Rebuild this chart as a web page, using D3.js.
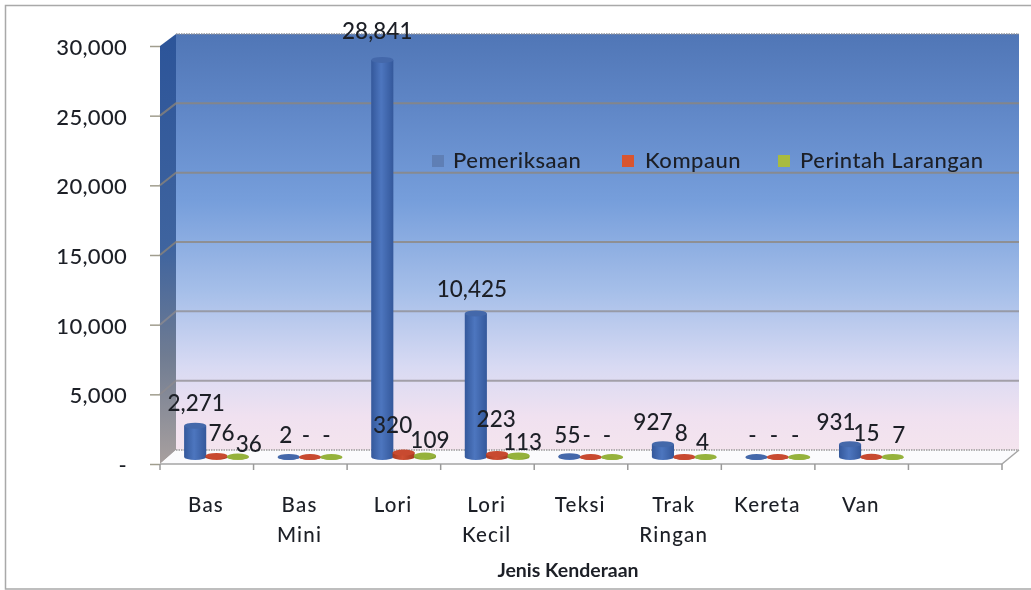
<!DOCTYPE html>
<html><head><meta charset="utf-8">
<script src="https://cdn.jsdelivr.net/npm/d3@7/dist/d3.min.js"></script>
<style>
html,body{margin:0;padding:0;background:#fff;overflow:hidden}
svg{display:block;filter:blur(0.5px)}
text{font-family:Lato,"Open Sans",sans-serif;fill:#1c1f26;font-weight:500}
</style></head><body>
<script>
// ---- data ----
const categories = [["Bas"],["Bas","Mini"],["Lori"],["Lori","Kecil"],["Teksi"],["Trak","Ringan"],["Kereta"],["Van"],[""]];
const seriesNames = ["Pemeriksaan","Kompaun","Perintah Larangan"];
const pemeriksaan = [2271,2,28841,10425,55,927,0,931];
const kompaun = [76,0,320,223,0,8,0,15];
const perintahLarangan = [36,0,109,113,0,4,0,7];
const yTicks = [0,5000,10000,15000,20000,25000,30000];
const axisTitle = "Jenis Kenderaan";
// ---- label nudges (hand placement of data labels, [dx,dy] from bar top centre) ----
const nudgeA = [[1,-22],[-3,-21],[-5,-28],[-4,-24],[-2,-20],[-10,-21],[-4,-21],[-14,-21]];
const nudgeB = [[5,-22],[-4,-21],[-11,-27],[-1,-34],[-4,-21],[-3,-23],[-4,-21],[-5,-23]];
const nudgeC = [[11,-12],[-5,-21],[5,-15],[4,-13],[-5,-21],[-3,-14],[-4,-21],[6,-21]];

const seriesValues = [pemeriksaan,kompaun,perintahLarangan];
const nudges = [nudgeA,nudgeB,nudgeC];
const dark = ["#34589b","#a8391f","#7f9a2a"], mid = ["#4d76bf","#cf4f33","#a0bd45"], cap = ["#4468aa","#c84a30","#95b23c"];
const legendSwatch = ["#5f7fb5","#d9552f","#a8bb3f"];

const W=1031,H=590;
const svg=d3.select("body").append("svg").attr("width",W).attr("height",H);
const defs=svg.append("defs");
const fmt=v=>v===0?"-":d3.format(",")(v);

const wall=defs.append("linearGradient").attr("id","wall").attr("x1",0).attr("x2",0).attr("y1",0).attr("y2",1);
[[0,"#5076b6"],[.17,"#5f86c6"],[.4,"#769edb"],[.62,"#a6bfe9"],[.8,"#d8daf3"],[.92,"#f0e1f0"],[1,"#f4e4ee"]]
 .forEach(s=>wall.append("stop").attr("offset",s[0]).attr("stop-color",s[1]));
const side=defs.append("linearGradient").attr("id","side").attr("x1",0).attr("x2",0).attr("y1",0).attr("y2",1);
[[0,"#2c5499"],[.5,"#3f649f"],[.75,"#707c92"],[1,"#a8a09f"]]
 .forEach(s=>side.append("stop").attr("offset",s[0]).attr("stop-color",s[1]));
seriesNames.forEach((n,i)=>{
  const g=defs.append("linearGradient").attr("id","bar"+i);
  [[0,dark[i]],[.45,mid[i]],[1,dark[i]]].forEach(s=>g.append("stop").attr("offset",s[0]).attr("stop-color",s[1]));
});

// frame: top, left and bottom rules only
svg.append("path").attr("d","M1031,5.5H5.5V589H1031").attr("fill","none").attr("stroke","#a9a9a9").attr("stroke-width",1.5);

// scales
const x=d3.scaleBand().domain(d3.range(categories.length)).range([160,1002]);
const xs=d3.scaleBand().domain(d3.range(3)).range([24.5,88.5]);
const yFront=d3.scaleLinear().domain([0,30000]).range([464,46]);
const yBack=d3.scaleLinear().domain([0,30000]).range([450,34]);
const yBar=d3.scaleLinear().domain([0,30000]).range([457,44]);
const depth=[16,17];

// walls
const L=x.range()[0],R=x.range()[1];
svg.append("rect").attr("x",L+depth[0]).attr("y",yBack(30000)).attr("width",R+depth[1]-L-depth[0]).attr("height",yBack(0)-yBack(30000)).attr("fill","url(#wall)");
svg.append("path").attr("d",`M${L},${yFront(30000)}L${L+depth[0]},${yBack(30000)}L${L+depth[0]},${yBack(0)}L${L},${yFront(0)}Z`).attr("fill","url(#side)");
svg.append("path").attr("d",`M${L},${yFront(0)}L${L+depth[0]},${yBack(0)}L${R+depth[1]},${yBack(0)}L${R},${yFront(0)}Z`).attr("fill","#fbfbfd");

// gridlines
svg.append("g").selectAll("path").data(yTicks.filter(t=>t>0&&t<30000)).join("path")
  .attr("d",t=>`M${L},${yFront(t)}L${L+depth[0]},${yBack(t)}L${R+depth[1]},${yBack(t)}`)
  .attr("fill","none").attr("stroke",t=>t>=15000?"#8f8578":"#8d8b8f").attr("stroke-width",2).attr("stroke-opacity",.75);
svg.append("path").attr("d",`M${L+depth[0]},${yBack(30000)}H${R+depth[1]}`).attr("stroke","#8c9099").attr("stroke-width",1.5).attr("stroke-dasharray","1.5 1");
svg.append("path").attr("d",`M${L+depth[0]},${yBack(0)}H${R+depth[1]}`).attr("stroke","#9a9a9a").attr("stroke-width",1.5).attr("stroke-dasharray","1.5 1");
svg.append("path").attr("d",`M${R},${yFront(0)}L${R+depth[1]},${yBack(0)}`).attr("stroke","#a5a5a5").attr("stroke-width",1.5);

// y axis
const yAxis=svg.append("g").attr("transform",`translate(${L},0)`)
  .call(d3.axisLeft(yFront).tickValues(yTicks).tickFormat(fmt).tickSize(10).tickPadding(23));
yAxis.select(".domain").remove();
yAxis.selectAll("line").attr("stroke","#a09d8e").attr("stroke-width",1.5);
yAxis.selectAll("text").attr("font-size",22).attr("dy","0.38em").attr("letter-spacing",".3");

// x axis
svg.append("path").attr("d",`M${L},${yFront(0)}H${R}`).attr("stroke","#a5a5a5").attr("stroke-width",1.5);
const boundaries=d3.range(categories.length).map(i=>x(i)).concat([R]);
svg.append("g").selectAll("line").data(boundaries).join("line")
  .attr("x1",d=>d).attr("x2",d=>d).attr("y1",yFront(0)).attr("y2",yFront(0)+6)
  .attr("stroke","#9a9a9a").attr("stroke-width",1.5);

// bars
const ry=3, rx=xs.bandwidth()/2+.4;
seriesValues.forEach((vals,si)=>{
  const g=svg.append("g");
  vals.forEach((v,ci)=>{
    const cx=x(ci)+xs(si)+xs.bandwidth()/2, top=yBar(v), base=yBar(0);
    g.append("path")
      .attr("d",`M${cx-rx},${top}V${base}A${rx},${ry} 0 0 0 ${cx+rx},${base}V${top}Z`)
      .attr("fill",`url(#bar${si})`);
    g.append("ellipse").attr("cx",cx).attr("cy",top).attr("rx",rx).attr("ry",ry).attr("fill",cap[si]);
  });
});

// data labels
seriesValues.forEach((vals,si)=>{
  svg.append("g").selectAll("text").data(vals).join("text")
    .attr("x",(v,ci)=>x(ci)+xs(si)+xs.bandwidth()/2+nudges[si][ci][0])
    .attr("y",(v,ci)=>yBar(v)+nudges[si][ci][1]-1)
    .attr("dy","0.36em").attr("text-anchor","middle").attr("font-size",22.5).text(fmt);
});

// category labels
categories.forEach((lines,i)=>{
  const t=svg.append("text").attr("text-anchor","middle").attr("font-size",20.5).attr("letter-spacing","1.2").attr("fill","#2a2d33");
  lines.forEach((s,j)=>t.append("tspan").attr("x",x(i)+46).attr("y",512+j*30).text(s));
});
svg.append("text").attr("x",568).attr("y",577).attr("text-anchor","middle")
  .attr("font-size",19.5).style("font-weight",700).text(axisTitle);

// legend
const legendX=[432,622,778], legendTextX=[453,645,800];
seriesNames.forEach((n,i)=>{
  svg.append("rect").attr("x",legendX[i]).attr("y",155).attr("width",12).attr("height",12).attr("fill",legendSwatch[i]);
  svg.append("text").attr("x",legendTextX[i]).attr("y",168).attr("font-size",22).attr("letter-spacing",".5").text(n);
});
</script>
</body></html>
